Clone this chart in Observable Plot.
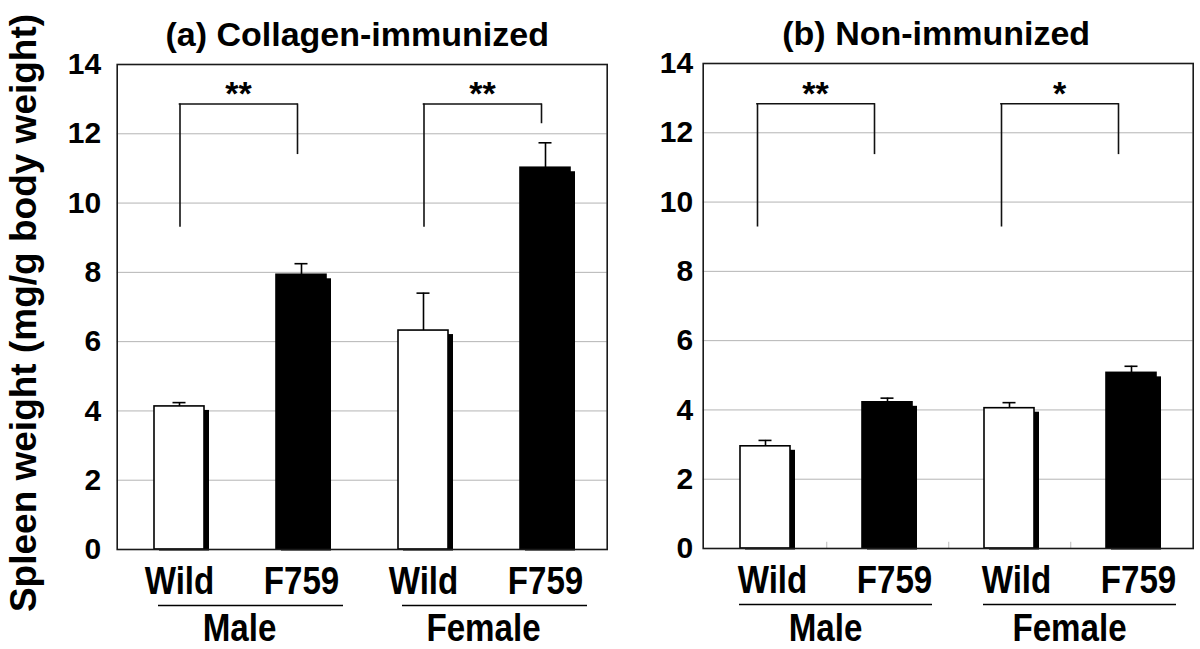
<!DOCTYPE html>
<html>
<head>
<meta charset="utf-8">
<script src="https://cdn.jsdelivr.net/npm/d3@7"></script>
<script src="https://cdn.jsdelivr.net/npm/@observablehq/plot@0.6"></script>
<style>
  html, body { margin: 0; padding: 0; background: #fff; }
  #wrap { position: relative; width: 1200px; height: 649px; overflow: hidden; }
  #wrap svg { position: absolute; top: 0; background: #fff; }
</style>
</head>
<body>
<div id="wrap"></div>
<script>
// ---- data ----
const categories = ["Male Wild", "Male F759", "Female Wild", "Female F759"];
const genotypes = ["Wild", "F759", "Wild", "F759"];
const sexes = ["Male", "Male", "Female", "Female"];
const groupLabels = ["Male", "Female"];
const groupFirstCategory = ["Male Wild", "Female Wild"];
const groupSecondCategory = ["Male F759", "Female F759"];
const panelTitles = ["(a) Collagen-immunized", "(b) Non-immunized"];
const yAxisTitle = "Spleen weight (mg/g body weight)";
const yTicks = [0, 2, 4, 6, 8, 10, 12, 14];
const gridTicks = [2, 4, 6, 8, 10, 12];

const collagenMean = [4.13, 7.93, 6.32, 11.02];
const collagenSE = [0.11, 0.32, 1.08, 0.72];
const nonMean = [2.95, 4.22, 4.05, 5.07];
const nonSE = [0.17, 0.12, 0.16, 0.19];

const collagenStars = ["**", "**"];
const collagenBracketTop = [12.86, 12.86];
const collagenLegLeft = [9.3, 9.3];
const collagenLegRight = [11.4, 12.29];

const nonStars = ["**", "*"];
const nonBracketTop = [12.84, 12.84];
const nonLegLeft = [9.28, 9.28];
const nonLegRight = [11.37, 11.37];

const FONT = '"Liberation Sans", Arial, Helvetica, sans-serif';
const NARROW_WORDS = new Set([...genotypes, ...groupLabels]);

function makePanel(cfg) {
  const bars = categories.map((c, i) => ({cat: c, genotype: genotypes[i], sex: sexes[i], value: cfg.mean[i], se: cfg.se[i]}));
  const brackets = groupFirstCategory.map((c, i) => ({
    a: c, b: groupSecondCategory[i], stars: cfg.stars[i],
    top: cfg.top[i], legA: cfg.legA[i], legB: cfg.legB[i]
  }));
  const groups = groupLabels.map((g, i) => ({label: g, a: groupFirstCategory[i], b: groupSecondCategory[i]}));
  const half = 25; // half of the band width (bars are 50px wide)
  const marks = [
    Plot.ruleY(gridTicks, {stroke: "#b4b4b4", strokeWidth: 1}),
  ];
  if (cfg.boundaryTicks) {
    marks.push(Plot.ruleX(categories.slice(0, 3), {x: d => d, y1: 0, y2: 0.18, dx: 61.25, stroke: "#bbb", strokeWidth: 1}));
  }
  marks.push(
    // drop shadows
    Plot.barY(bars, {x: "cat", y: "value", fill: "black", dx: 5, dy: 4, insetBottom: 2.5}),
    // bars
    Plot.barY(bars, {x: "cat", y: "value", fill: d => d.genotype === "Wild" ? "white" : "black", stroke: "black", strokeWidth: 1.6}),
    // error bars
    Plot.ruleX(bars, {x: "cat", y1: "value", y2: d => d.value + d.se, stroke: "black", strokeWidth: 1.6}),
    Plot.tickY(bars, {x: "cat", y: d => d.value + d.se, stroke: "black", strokeWidth: 1.6, insetLeft: 18.5, insetRight: 18.5}),
    // significance brackets
    Plot.ruleX(brackets, {x: "a", y1: "legA", y2: "top", dx: cfg.offA, stroke: "#111", strokeWidth: 1.6}),
    Plot.ruleX(brackets, {x: "b", y1: "legB", y2: "top", dx: cfg.offB, stroke: "#111", strokeWidth: 1.6}),
    Plot.ruleY(brackets, {y: "top", x1: "a", x2: "b", insetLeft: half + cfg.offA - 0.8, insetRight: half - cfg.offB - 0.8, stroke: "#111", strokeWidth: 1.6}),
    Plot.text(brackets, {x: "a", y: "top", text: "stars", dx: cfg.starDx, dy: -9.5, fontSize: 34, fontWeight: "bold", fontFamily: FONT, fill: "black"}),
    // frame
    Plot.frame({stroke: "#1a1a1a", strokeWidth: 1.6}),
    // y tick labels
    Plot.text(yTicks, {y: d => d, text: d => String(d), frameAnchor: "left", textAnchor: "end", dx: -cfg.tickPad, fontSize: 30, fontWeight: "bold", fontFamily: FONT, fill: "black"}),
    // x category labels (condensed bold)
    Plot.text(bars, {x: "cat", text: "genotype", frameAnchor: "bottom", lineAnchor: "bottom", dy: 44, dx: cfg.labelDx, fontSize: 39, fontWeight: "bold", fontFamily: FONT, fill: "black"}),
    // group underline and labels
    Plot.ruleY(groups, {y: 0, x1: "a", x2: "b", dy: 56, insetLeft: cfg.ulLeft, insetRight: cfg.ulRight, stroke: "black", strokeWidth: 1.4}),
    Plot.text(groups, {x: "a", text: "label", frameAnchor: "bottom", lineAnchor: "bottom", dy: cfg.groupDy, dx: 60, fontSize: 39, fontWeight: "bold", fontFamily: FONT, fill: "black"}),
    // panel title
    Plot.text([cfg.title], {frameAnchor: "top", lineAnchor: "bottom", dy: -19, dx: cfg.titleDx, fontSize: 34, fontWeight: "bold", fontFamily: FONT, fill: "black"})
  );
  if (cfg.yTitle) {
    marks.push(Plot.text([cfg.yTitle], {frameAnchor: "left", textAnchor: "middle", rotate: -90, dx: -93, dy: 6, fontSize: 37, fontWeight: "bold", fontFamily: FONT, fill: "black"}));
  }
  const svg = Plot.plot({
    width: cfg.width,
    height: 649,
    marginLeft: cfg.ml,
    marginRight: cfg.mr,
    marginTop: cfg.mt,
    marginBottom: cfg.mb,
    x: {domain: categories, paddingInner: 0.592, paddingOuter: 0.296, axis: null},
    y: {domain: [0, 14], axis: null},
    color: {type: "identity"},
    style: {fontFamily: FONT, background: "white", overflow: "visible"},
    marks
  });
  // condense the category / group labels horizontally (Arial Narrow look)
  d3.select(svg).selectAll("text").each(function () {
    if (!NARROW_WORDS.has(this.textContent.trim())) return;
    const x = +(this.getAttribute("x") || 0);
    const y = +(this.getAttribute("y") || 0);
    const t = this.getAttribute("transform") || "";
    this.removeAttribute("x");
    this.removeAttribute("y");
    this.setAttribute("transform", `${t} translate(${x},${y}) scale(0.85,1)`);
  });
  return svg;
}

const wrap = document.getElementById("wrap");
const A = makePanel({
  width: 610, ml: 116.7, mr: 3.3, mt: 64, mb: 100,
  mean: collagenMean, se: collagenSE, stars: collagenStars,
  top: collagenBracketTop, legA: collagenLegLeft, legB: collagenLegRight,
  offA: 0.5, offB: -4, starDx: 59, tickPad: 16, title: panelTitles[0], titleDx: -5,
  ulLeft: 4, ulRight: -17, labelDx: 0, groupDy: 91,
  yTitle: yAxisTitle, boundaryTicks: false
});
A.style.left = "0px";
wrap.appendChild(A);
const B = makePanel({
  width: 590, ml: 92.7, mr: 7.3, mt: 63, mb: 101,
  mean: nonMean, se: nonSE, stars: nonStars,
  top: nonBracketTop, legA: nonLegLeft, legB: nonLegRight,
  offA: -8, offB: -13, starDx: 50, tickPad: 10, title: panelTitles[1], titleDx: -12,
  ulLeft: -1, ulRight: -20, labelDx: 7, groupDy: 92,
  yTitle: null, boundaryTicks: true
});
B.style.left = "610px";
wrap.appendChild(B);
</script>
</body>
</html>
